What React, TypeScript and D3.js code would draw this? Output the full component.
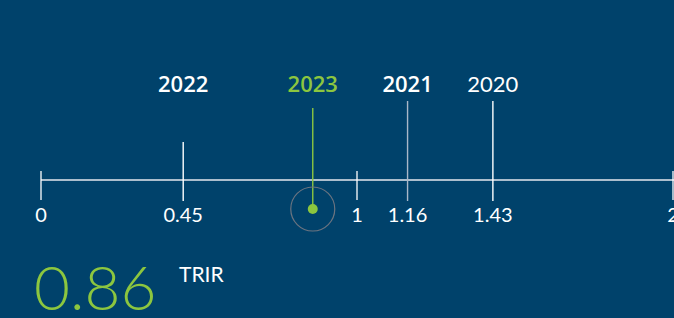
import * as d3 from "d3";
import React from "react";

const width = 674;
const height = 318;

// year markers along the TRIR scale
const years = ["2022", "2023", "2021", "2020"];
const values = [0.45, 0.86, 1.16, 1.43];
const current = "2023";
const tickValues = [0, 1, 2];
const bigValue = "0.86";
const metric = "TRIR";

const green = "#8cc63f";
const bg = "#00426b";

export default function App() {
  const x = d3.scaleLinear().domain([0, 2]).range([41, 673]);
  const axisY = 180;

  const labelTicks = [...tickValues, ...values.filter((v, i) => years[i] !== current)];

  return (
    <svg
      width={width}
      height={height}
      style={{ position: "fixed", left: 0, top: 0, background: bg }}
      fontFamily="Lato, 'Open Sans', sans-serif"
    >
      <rect width={width} height={height} fill={bg} />

      {/* main axis */}
      <line x1={x(0)} x2={width} y1={axisY} y2={axisY} stroke="#e6e9ee" strokeWidth={1.5} />

      {/* small ticks at round values */}
      {tickValues.map((t) => (
        <line key={"t" + t} x1={x(t)} x2={x(t)} y1={axisY - 9} y2={axisY + 20} stroke="#fff" strokeWidth={1.3} />
      ))}

      {/* year lines */}
      {years.map((yr, i) => {
        const isCur = yr === current;
        const top = i === 0 ? 142 : isCur ? 108 : 101;
        const bottom = isCur ? 209 : axisY + 21;
        return (
          <g key={yr}>
            <line
              x1={x(values[i])}
              x2={x(values[i])}
              y1={top}
              y2={bottom}
              stroke={isCur ? green : yr === "2021" ? "#aab8c8" : "#fff"}
              strokeWidth={1.4}
            />
            <text
              x={x(values[i])}
              y={92}
              textAnchor="middle"
              fontSize={22}
              fontFamily={yr === "2020" ? "Lato, sans-serif" : "'Open Sans', sans-serif"}
              fontWeight={yr === "2020" ? 400 : 600}
              fill={isCur ? green : "#fff"}
            >
              {yr}
            </text>
            {isCur && (
              <g>
                <circle cx={x(values[i])} cy={bottom} r={22} fill="none" stroke="#6b7480" strokeWidth={1.2} />
                <circle cx={x(values[i])} cy={bottom} r={5} fill={green} />
              </g>
            )}
          </g>
        );
      })}

      {/* tick labels */}
      {labelTicks.map((t) => (
        <text
          key={"l" + t}
          x={x(t)}
          y={222}
          textAnchor="middle"
          fontSize={20}
          fontWeight={400}
          fill="#fff"
        >
          {String(t)}
        </text>
      ))}

      {/* headline value */}
      <text x={34} y={310} fontSize={62} fontWeight={300} fill={green}>
        {bigValue}
      </text>
      <text x={179} y={282} fontSize={21} fontWeight={400} fill="#fff">
        {metric}
      </text>
    </svg>
  );
}
